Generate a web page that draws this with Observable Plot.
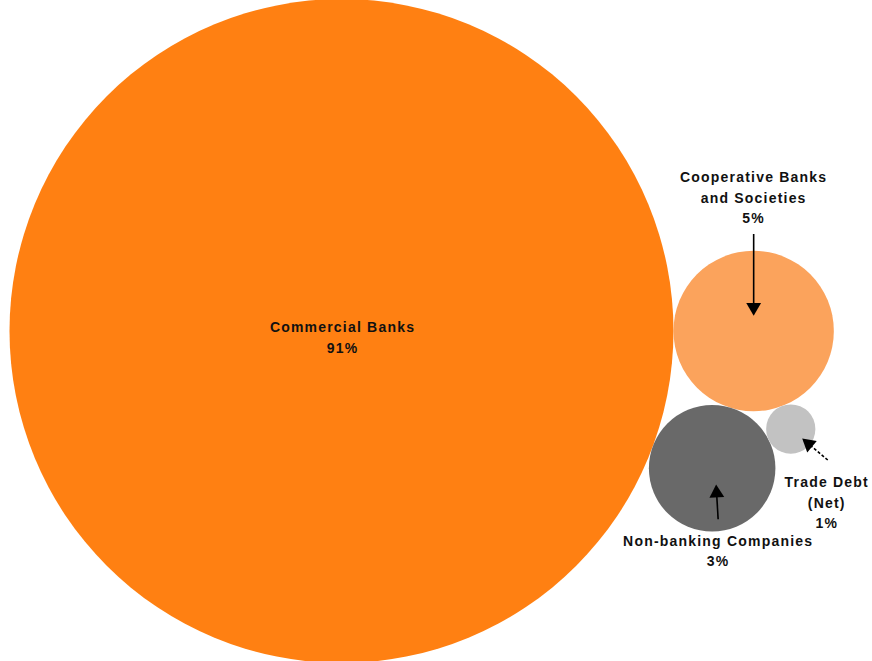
<!DOCTYPE html>
<html>
<head>
<meta charset="utf-8">
<script src="https://cdn.jsdelivr.net/npm/d3@7"></script>
<script src="https://cdn.jsdelivr.net/npm/@observablehq/plot@0.6"></script>
<style>
  html, body { margin: 0; padding: 0; background: #ffffff; }
  #chart svg { display: block; }
</style>
</head>
<body>
<div id="chart"></div>
<script>
// ---- Data ----
const categories  = ["Commercial Banks", "Cooperative Banks\nand Societies", "Non-banking Companies", "Trade Debt\n(Net)"];
const shares      = [90.9, 5.3, 3.3, 0.5];          // estimated underlying shares (%)
const shareLabels = ["91%", "5%", "3%", "1%"];       // labels as printed
const palette     = ["#ff8012", "#fba35c", "#696969", "#c2c2c2"];

// ---- Layout / styling constants ----
const W = 872, H = 661, MAX_R = 332, LEFT_PAD = 9, TOP_PAD = -1.5;
// label + callout arrow offsets (px) relative to each bubble centre
const callouts = [
  {lx: 1,  ly: 5,    sx: null},                                      // Commercial (no arrow)
  {lx: 0,  ly: -135, sx: 0,  sy: -97, tx: 0,  ty: -16, dash: null},   // Cooperative
  {lx: 6,  ly: 81,   sx: 6,  sy: 51,  tx: 4,  ty: 17,  dash: null},   // Non-banking
  {lx: 36, ly: 72,   sx: 37, sy: 31,  tx: 12, ty: 10,  dash: "3,2"}   // Trade Debt
];

const rScale = Plot.scale({r: {type: "sqrt", domain: [0, d3.max(shares)], range: [0, MAX_R]}});
const nodes = categories.map((c, i) => ({
  category: c, share: shares[i], label: shareLabels[i], r: rScale.apply(shares[i])
}));

// tangent placement: circle c touching a and b, on side `sign` of a->b
function place(a, b, c, sign) {
  const dx = b.x - a.x, dy = b.y - a.y, d = Math.hypot(dx, dy);
  const ux = dx / d, uy = dy / d, px = -uy, py = ux;
  const da = a.r + c.r, db = b.r + c.r;
  const t = (da * da - db * db + d * d) / (2 * d);
  const h = Math.sqrt(Math.max(0, da * da - t * t));
  c.x = a.x + t * ux + sign * h * px;
  c.y = a.y + t * uy + sign * h * py;
}
const [big, coop, nbc, trade] = nodes;
big.x = 0; big.y = 0;
coop.x = big.r + coop.r; coop.y = 0;     // to the right of the dominant bubble
place(big, coop, nbc, 1);                // below, touching both
place(coop, nbc, trade, -1);             // outer side, touching both

const x0 = -big.r - LEFT_PAD, y0 = -big.r - TOP_PAD;

const labels = nodes.map((n, i) => ({
  x: n.x + callouts[i].lx, y: n.y + callouts[i].ly, text: `${n.category}\n${n.label}`
}));
const HEAD = 7.8, BASE = 11;
const arrows = [];
nodes.forEach((n, i) => {
  const c = callouts[i];
  if (c.sx == null) return;
  const x1 = n.x + c.sx, y1 = n.y + c.sy, x2 = n.x + c.tx, y2 = n.y + c.ty;
  const L = Math.hypot(x2 - x1, y2 - y1), ux = (x2 - x1) / L, uy = (y2 - y1) / L;
  arrows.push({
    x1, y1, x2: x2 - ux * BASE, y2: y2 - uy * BASE,
    hx: x2 - ux * HEAD, hy: y2 - uy * HEAD,
    rotate: Math.atan2(ux, -uy) * 180 / Math.PI,
    dash: c.dash
  });
});

const plot = Plot.plot({
  width: W,
  height: H,
  margin: 0,
  x: {domain: [x0, x0 + W], range: [0, W], axis: null},
  y: {domain: [y0, y0 + H], range: [0, H], axis: null},
  r: {type: "sqrt", domain: [0, d3.max(shares)], range: [0, MAX_R]},
  color: {domain: categories, range: palette},
  style: {fontFamily: "'Liberation Sans', Arial, sans-serif", letterSpacing: "1.2px", background: "#ffffff"},
  marks: [
    Plot.dot(nodes, {x: "x", y: "y", r: "share", fill: "category", stroke: "none", fillOpacity: 1}),
    Plot.link(arrows.filter(d => !d.dash), {x1: "x1", y1: "y1", x2: "x2", y2: "y2", stroke: "#000", strokeWidth: 1.6}),
    Plot.link(arrows.filter(d => d.dash), {x1: "x1", y1: "y1", x2: "x2", y2: "y2", stroke: "#000", strokeWidth: 1.6, strokeDasharray: "3,2"}),
    Plot.dot(arrows, {x: "hx", y: "hy", symbol: "triangle", r: 5.5, rotate: "rotate", fill: "#000", stroke: "none"}),
    Plot.text(labels, {x: "x", y: "y", text: "text", fontSize: 14, fontWeight: "bold", lineHeight: 1.45, fill: "#111", textAnchor: "middle"})
  ]
});
document.getElementById("chart").appendChild(plot);
</script>
</body>
</html>
